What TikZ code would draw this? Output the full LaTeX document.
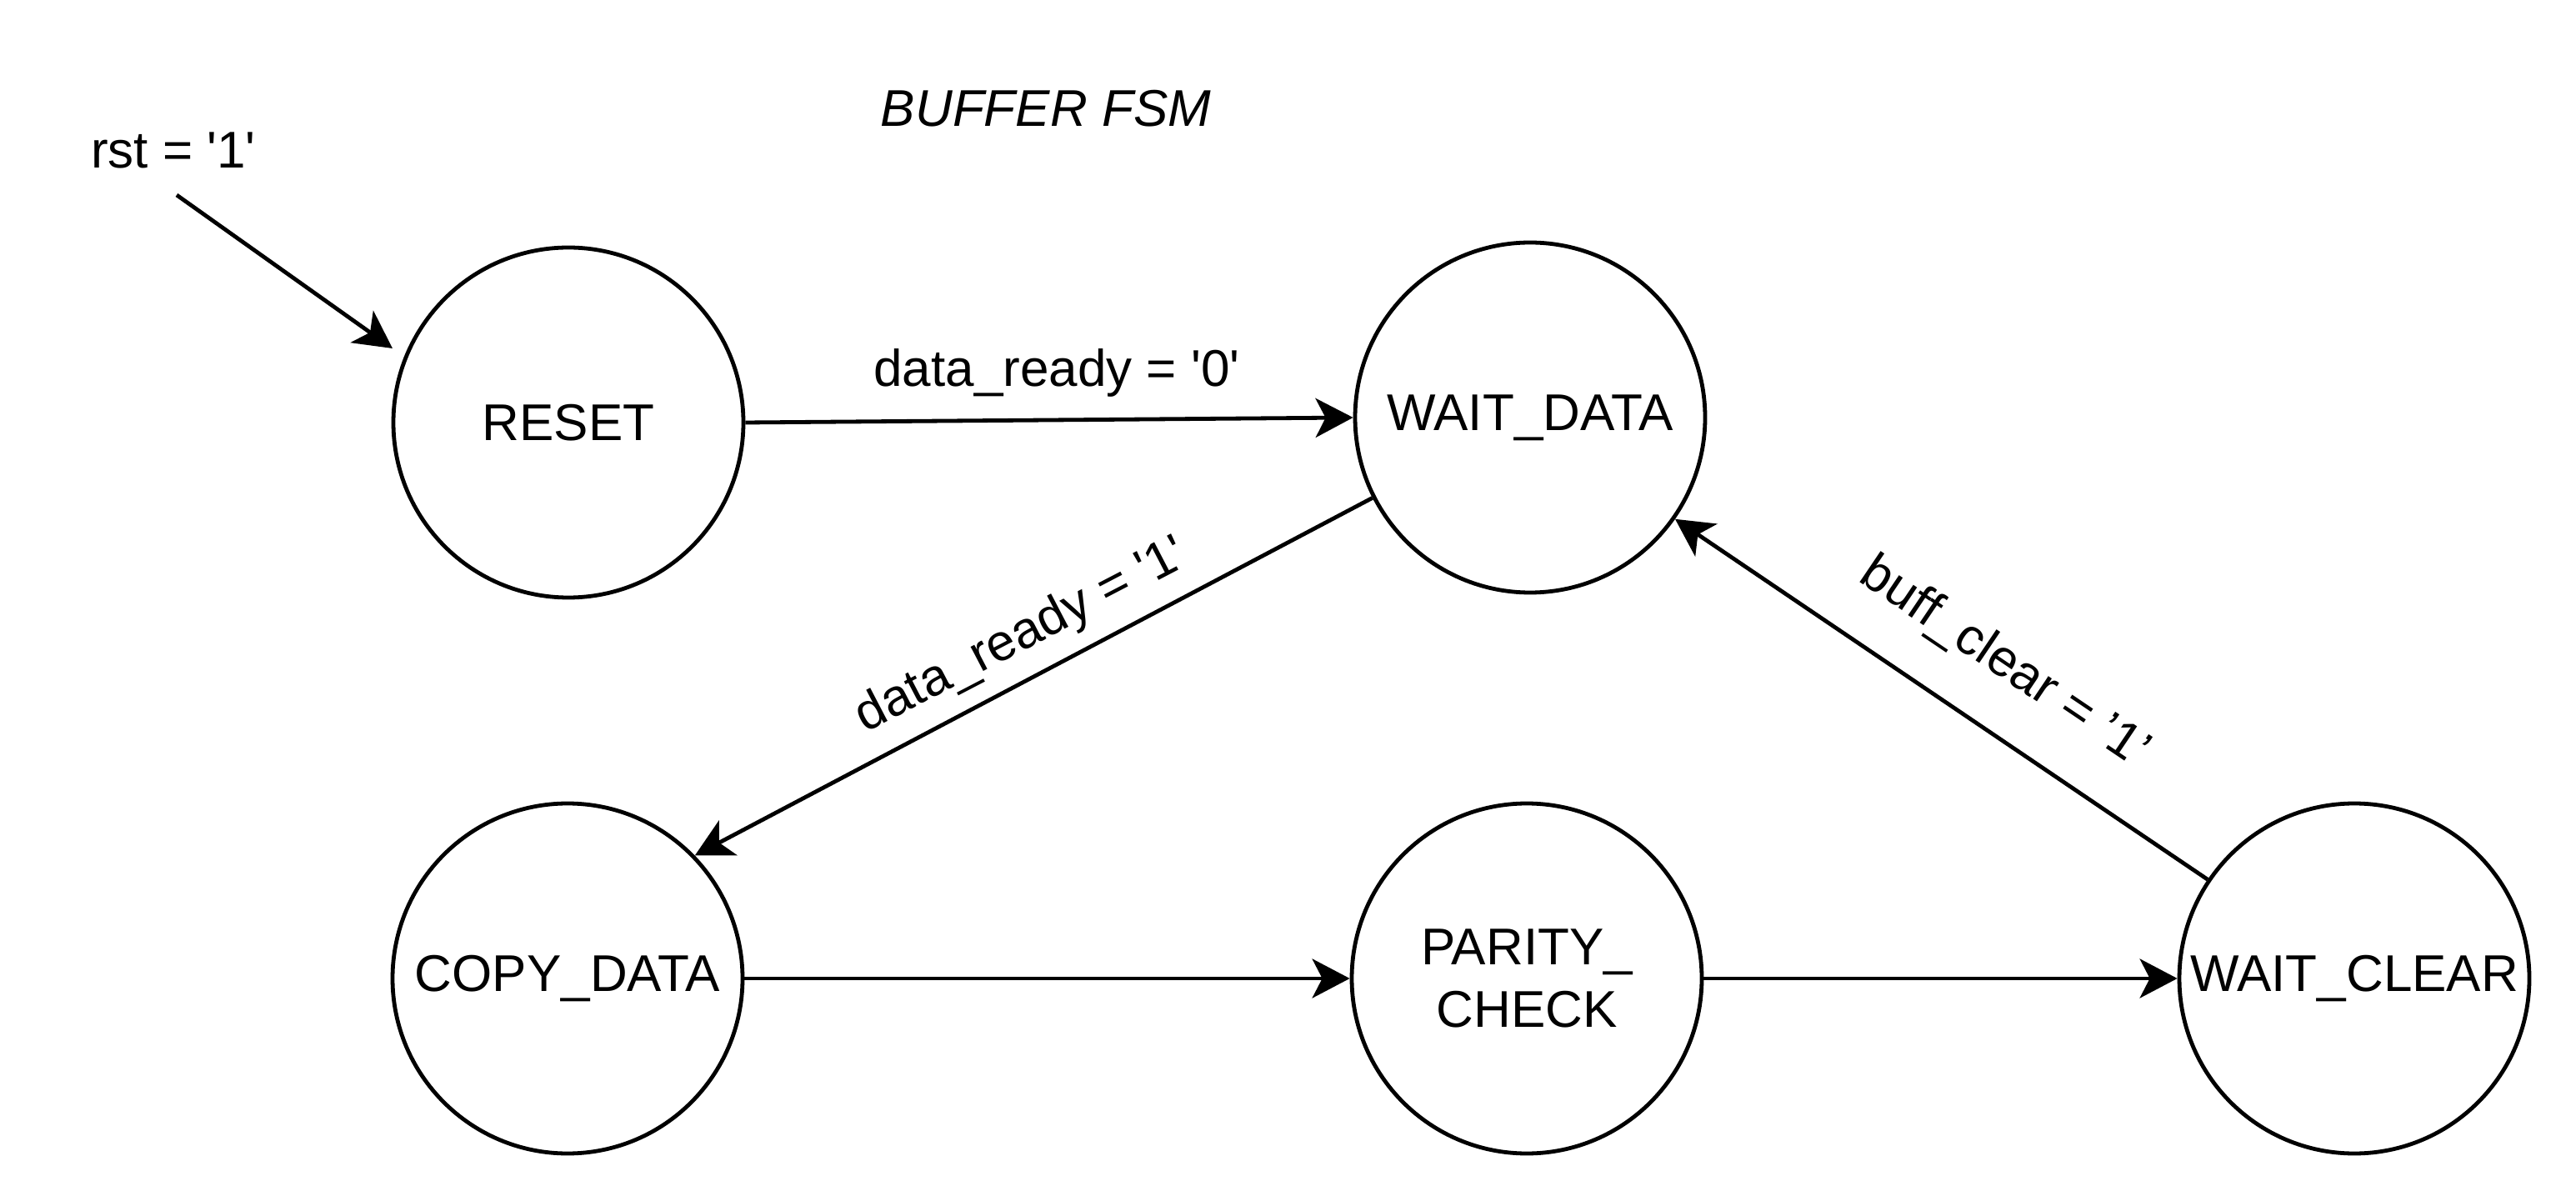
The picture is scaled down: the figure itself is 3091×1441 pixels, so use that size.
\documentclass[tikz,border=0pt]{standalone}
\usepackage{fontspec}
\setmainfont{Liberation Sans}
\usetikzlibrary{arrows.meta}
\newcommand\sqt{\textquotesingle}
\begin{document}
\begin{tikzpicture}[x=0.25pt,y=-0.25pt,
  state/.style={circle,draw,line width=1.2pt,minimum size=105pt,inner sep=0pt,
    font=\fontsize{15.5pt}{18.75pt}\selectfont,align=center},
  lbl/.style={font=\fontsize{15.5pt}{18.75pt}\selectfont,inner sep=0pt},
  conn/.style={draw,line width=1.2pt,-{Stealth[length=11.25pt,width=11.75pt,inset=3pt]}}]
\useasboundingbox (0,0) rectangle (3091,1441);
\fill[white] (0,0) rectangle (3091,1441);

\node[state] (reset) at (682,507) {RESET};
\node[state] (waitdata) at (1836,501) {WAIT\_DATA};
\node[state] (copy) at (681,1174) {COPY\_DATA};
\node[state] (parity) at (1832,1174) {PARITY\_\\CHECK};
\node[state] (waitclear) at (2825,1174) {WAIT\_CLEAR};

\node[lbl,anchor=base] (title) at (1255,152) {\itshape BUFFER FSM};
\node[lbl,anchor=base] (rstlbl) at (208,202) {rst = \sqt1\sqt};
\node[lbl,anchor=base] (lbl0) at (1268,464) {data\_ready = \sqt0\sqt};
\node[lbl,rotate=27.5] (lbl1) at (1226,764) {data\_ready = \sqt1\sqt};
\node[lbl,rotate=-34] (lbl2) at (2405,796) {buff\_clear = ’1’};

\coordinate (rsts) at (212,234);
\coordinate (rste) at (471,418);

\draw[conn] (rsts) -- (rste);
\draw[conn] (reset.east) -- (waitdata.west);
\draw[conn] (waitdata.207) -- (copy.44);
\draw[conn] (copy.east) -- (parity.west);
\draw[conn] (parity.east) -- (waitclear.west);
\draw[conn] (waitclear.146) -- (waitdata.325);
\end{tikzpicture}
\end{document}
